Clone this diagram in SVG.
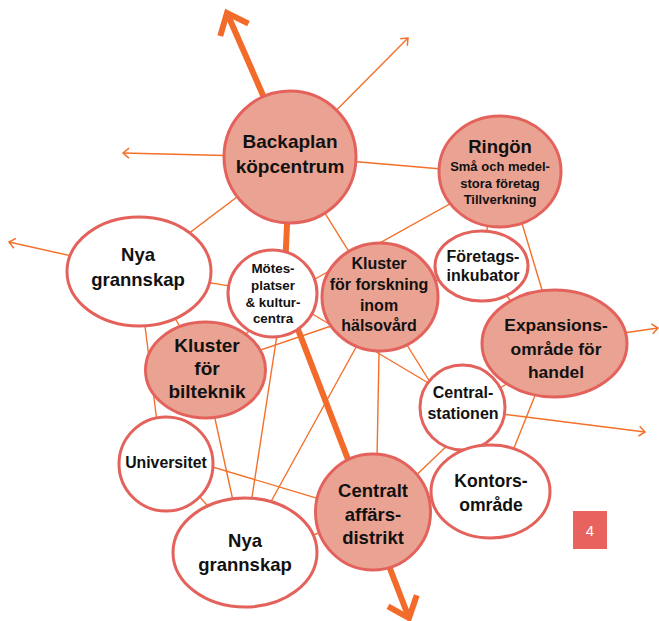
<svg xmlns="http://www.w3.org/2000/svg" width="659" height="621" viewBox="0 0 659 621">
<style>
.c{stroke:#f37029;stroke-width:1.4;fill:none}
.big{stroke:#f26b2a;stroke-width:6;fill:none}
.n{fill:#fff;stroke:#e4625c;stroke-width:3}
.p{fill:#eaa392;stroke:#e4625c;stroke-width:3}
.t{font-family:"Liberation Sans",Arial,sans-serif;font-weight:bold;fill:#111;text-anchor:middle}
</style>
<defs>
<marker id="a" viewBox="-10 -6 12 12" refX="0" refY="0" markerWidth="12" markerHeight="12" markerUnits="userSpaceOnUse" orient="auto">
<path d="M-6,-5 L0,0 L-6,5" fill="none" stroke="#f37029" stroke-width="1.5"/>
</marker>
<marker id="b" viewBox="-24 -20 30 40" refX="0" refY="0" markerWidth="30" markerHeight="40" markerUnits="userSpaceOnUse" orient="auto">
<path d="M-18.4,-15.4 L0,0 L-18.4,15.4" fill="none" stroke="#f26b2a" stroke-width="6"/>
</marker>
</defs>
<g id="connectors">
<line class="c" x1="290" y1="156" x2="500" y2="174"/>
<line class="c" x1="290" y1="157" x2="139" y2="271"/>
<line class="c" x1="290" y1="157" x2="430" y2="382"/>
<line class="c" x1="500" y1="176" x2="315" y2="279"/>
<line class="c" x1="490" y1="200" x2="485" y2="250"/>
<line class="c" x1="512" y1="190" x2="545" y2="300"/>
<line class="c" x1="470" y1="272" x2="400" y2="290"/>
<line class="c" x1="495" y1="280" x2="525" y2="320"/>
<line class="c" x1="139" y1="271" x2="272" y2="293"/>
<line class="c" x1="165" y1="300" x2="190" y2="345"/>
<line class="c" x1="143" y1="310" x2="158" y2="430"/>
<line class="c" x1="205" y1="369" x2="340" y2="323"/>
<line class="c" x1="272" y1="290" x2="462" y2="403"/>
<line class="c" x1="380" y1="300" x2="376" y2="512"/>
<line class="c" x1="360" y1="340" x2="268" y2="507"/>
<line class="c" x1="279" y1="322" x2="250" y2="510"/>
<line class="c" x1="212" y1="405" x2="235" y2="510"/>
<line class="c" x1="260" y1="320" x2="235" y2="345"/>
<line class="c" x1="166" y1="453" x2="373" y2="515"/>
<line class="c" x1="185" y1="480" x2="220" y2="520"/>
<line class="c" x1="300" y1="540" x2="340" y2="525"/>
<line class="c" x1="480" y1="400" x2="530" y2="370"/>
<line class="c" x1="455" y1="438" x2="405" y2="486"/>
<line class="c" x1="538" y1="388" x2="510" y2="458"/>
<line class="c" x1="290" y1="157" x2="408" y2="38" marker-end="url(#a)"/>
<line class="c" x1="290" y1="157" x2="123" y2="153" marker-end="url(#a)"/>
<line class="c" x1="139" y1="271" x2="9" y2="242" marker-end="url(#a)"/>
<line class="c" x1="554" y1="343" x2="658" y2="328" marker-end="url(#a)"/>
<line class="c" x1="462" y1="409" x2="645" y2="432" marker-end="url(#a)"/>
<line class="big" x1="290" y1="157" x2="227" y2="13" marker-end="url(#b)"/>
<polyline class="big" points="290,157 284,293 409,618" marker-end="url(#b)"/>
</g>
<g id="backaplan"><circle class="p" cx="290" cy="157" r="66"/>
<text class="t" font-size="19" x="290" y="148">Backaplan</text><text class="t" font-size="19" x="290" y="173">köpcentrum</text></g>
<g id="ringon"><ellipse class="p" cx="500" cy="171.5" rx="61" ry="55.5"/>
<text class="t" font-size="18.5" x="500" y="153">Ringön</text>
<text class="t" font-size="13" x="500" y="171">Små och medel-</text>
<text class="t" font-size="13" x="500" y="187.5">stora företag</text>
<text class="t" font-size="13" x="500" y="204">Tillverkning</text></g>
<g id="foretagsinkubator"><ellipse class="n" cx="481.5" cy="266" rx="46.5" ry="35"/>
<text class="t" font-size="16" x="483" y="262">Företags-</text><text class="t" font-size="16" x="483" y="281">inkubator</text></g>
<g id="nya-grannskap-1"><ellipse class="n" cx="139" cy="271.5" rx="72" ry="54.5"/>
<text class="t" font-size="18.5" x="138" y="261">Nya</text><text class="t" font-size="18.5" x="138" y="286">grannskap</text></g>
<g id="motesplatser"><ellipse class="n" cx="272.5" cy="293.5" rx="44.5" ry="43.5"/>
<text class="t" font-size="13.4" x="273" y="273">Mötes-</text>
<text class="t" font-size="13.4" x="273" y="290">platser</text>
<text class="t" font-size="13.4" x="273" y="307">&amp; kultur-</text>
<text class="t" font-size="13.4" x="273" y="323">centra</text></g>
<g id="bilteknik"><ellipse class="p" cx="205.5" cy="370" rx="60" ry="48"/>
<text class="t" font-size="19" x="207" y="352">Kluster</text>
<text class="t" font-size="19" x="207" y="375">för</text>
<text class="t" font-size="19" x="207" y="398">bilteknik</text></g>
<g id="forskning"><ellipse class="p" cx="380" cy="297" rx="58" ry="54"/>
<text class="t" font-size="16" x="379" y="269">Kluster</text>
<text class="t" font-size="16" x="379" y="290">för forskning</text>
<text class="t" font-size="16" x="379" y="311">inom</text>
<text class="t" font-size="16" x="379" y="331">hälsovård</text></g>
<g id="expansion"><ellipse class="p" cx="554.5" cy="343.5" rx="72.5" ry="53.5"/>
<text class="t" font-size="17.4" x="556" y="331">Expansions-</text>
<text class="t" font-size="17.4" x="556" y="355">område för</text>
<text class="t" font-size="17.4" x="556" y="378">handel</text></g>
<g id="centralstationen"><ellipse class="n" cx="462.5" cy="407.5" rx="42.5" ry="42.5"/>
<text class="t" font-size="16" x="463" y="398">Central-</text><text class="t" font-size="16" x="463" y="419">stationen</text></g>
<g id="universitet"><circle class="n" cx="166" cy="464" r="47"/>
<text class="t" font-size="15.8" x="166" y="468">Universitet</text></g>
<g id="nya-grannskap-2"><ellipse class="n" cx="245" cy="552.5" rx="72" ry="54.5"/>
<text class="t" font-size="18.5" x="245" y="547">Nya</text><text class="t" font-size="18.5" x="245" y="571">grannskap</text></g>
<g id="centralt"><ellipse class="p" cx="373" cy="512" rx="57.5" ry="58"/>
<text class="t" font-size="18.5" x="373" y="497">Centralt</text>
<text class="t" font-size="18.5" x="373" y="521">affärs-</text>
<text class="t" font-size="18.5" x="373" y="544">distrikt</text></g>
<g id="kontorsomrade"><ellipse class="n" cx="490.5" cy="491.5" rx="59.5" ry="46.5"/>
<text class="t" font-size="17.6" x="491" y="487">Kontors-</text><text class="t" font-size="17.6" x="491" y="511">område</text></g>
<g id="page"><rect x="573" y="511" width="34" height="38" fill="#e8635d"/>
<text x="590" y="536" font-family="Liberation Sans,Arial,sans-serif" font-size="15" fill="#fff" text-anchor="middle">4</text></g>
</svg>
